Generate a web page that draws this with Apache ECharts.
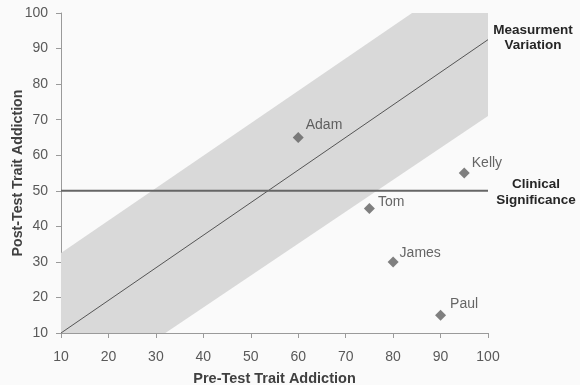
<!DOCTYPE html>
<html><head><meta charset="utf-8">
<script src="https://cdn.jsdelivr.net/npm/echarts@6/dist/echarts.min.js"></script>
<style>html,body{margin:0;padding:0;background:#fafafa}#c{width:580px;height:385px}</style>
</head><body><div id="c"></div>
<script>
const people = ['Adam', 'Kelly', 'Tom', 'James', 'Paul'];
const preTest = [60, 95, 75, 80, 90];
const postTest = [65, 55, 45, 30, 15];
const axisTicks = [10, 20, 30, 40, 50, 60, 70, 80, 90, 100];
const measurementLine = [[10, 10], [100, 92.5]];
const bandPolygon = [[10, 32.5], [84, 100], [100, 100], [100, 71], [32, 10], [10, 10]];
const clinicalLine = [[10, 50], [100, 50]];

// label placement (style only)
const labelOffsets = { Adam: [0, -12], Kelly: [0, -10], Tom: [1, -6], James: [-1, -9], Paul: [2, -11] };

const chart = echarts.init(document.getElementById('c'));
const labelFont = 'Liberation Sans';
chart.setOption({
  backgroundColor: '#fafafa',
  animation: false,
  grid: { left: 61, right: 92, top: 13, bottom: 52, containLabel: false, outerBoundsMode: 'none' },
  xAxis: {
    type: 'value', min: axisTicks[0], max: axisTicks[axisTicks.length - 1], interval: 10,
    name: 'Pre-Test Trait Addiction', nameLocation: 'middle', nameGap: 38, nameMoveOverlap: false,
    nameTextStyle: { fontFamily: labelFont, fontWeight: 'bold', fontSize: 14.5, color: '#404040' },
    axisLine: { lineStyle: { color: '#9a9a9a', width: 1 } },
    axisTick: { show: true, inside: false, length: 5, lineStyle: { color: '#9a9a9a' } },
    axisLabel: { margin: 17, fontFamily: labelFont, fontSize: 14, color: '#595959' },
    splitLine: { show: false }
  },
  yAxis: {
    type: 'value', min: axisTicks[0], max: axisTicks[axisTicks.length - 1], interval: 10,
    name: 'Post-Test Trait Addiction', nameLocation: 'middle', nameGap: 36, nameMoveOverlap: false,
    nameTextStyle: { fontFamily: labelFont, fontWeight: 'bold', fontSize: 14.2, color: '#404040' },
    axisLine: { show: true, lineStyle: { color: '#9a9a9a', width: 1 } },
    axisTick: { show: true, inside: false, length: 5, lineStyle: { color: '#9a9a9a' } },
    axisLabel: { margin: 13, fontFamily: labelFont, fontSize: 14, color: '#595959' },
    splitLine: { show: false }
  },
  series: [
    {
      type: 'custom', silent: true, z: 1,
      data: [0],
      renderItem: function (params, api) {
        const pts = bandPolygon.map(p => api.coord(p));
        return { type: 'polygon', shape: { points: pts }, style: { fill: '#d9d9d9' } };
      }
    },
    {
      type: 'line', data: measurementLine, symbol: 'none', z: 2,
      lineStyle: { color: '#555555', width: 1 }
    },
    {
      type: 'line', data: clinicalLine, symbol: 'none', z: 2,
      lineStyle: { color: '#666666', width: 2 }
    },
    {
      type: 'scatter', z: 3, symbol: 'diamond', symbolSize: 11,
      itemStyle: { color: '#606060' },
      data: people.map((n, i) => ({ name: n, value: [preTest[i], postTest[i]], label: { offset: labelOffsets[n] } })),
      label: {
        show: true, position: 'right', distance: 2,
        formatter: p => p.name,
        fontFamily: labelFont, fontSize: 14, color: '#404040'
      }
    }
  ],
  graphic: [
    { type: 'text', x: 533, y: 23, style: { text: 'Measurment\nVariation', textAlign: 'center', align: 'center', fill: '#262626', font: 'bold 13.5px "Liberation Sans"', lineHeight: 15 } },
    { type: 'text', x: 536, y: 176, style: { text: 'Clinical\nSignificance', textAlign: 'center', align: 'center', fill: '#262626', font: 'bold 13.5px "Liberation Sans"', lineHeight: 16 } }
  ]
});
</script></body></html>
